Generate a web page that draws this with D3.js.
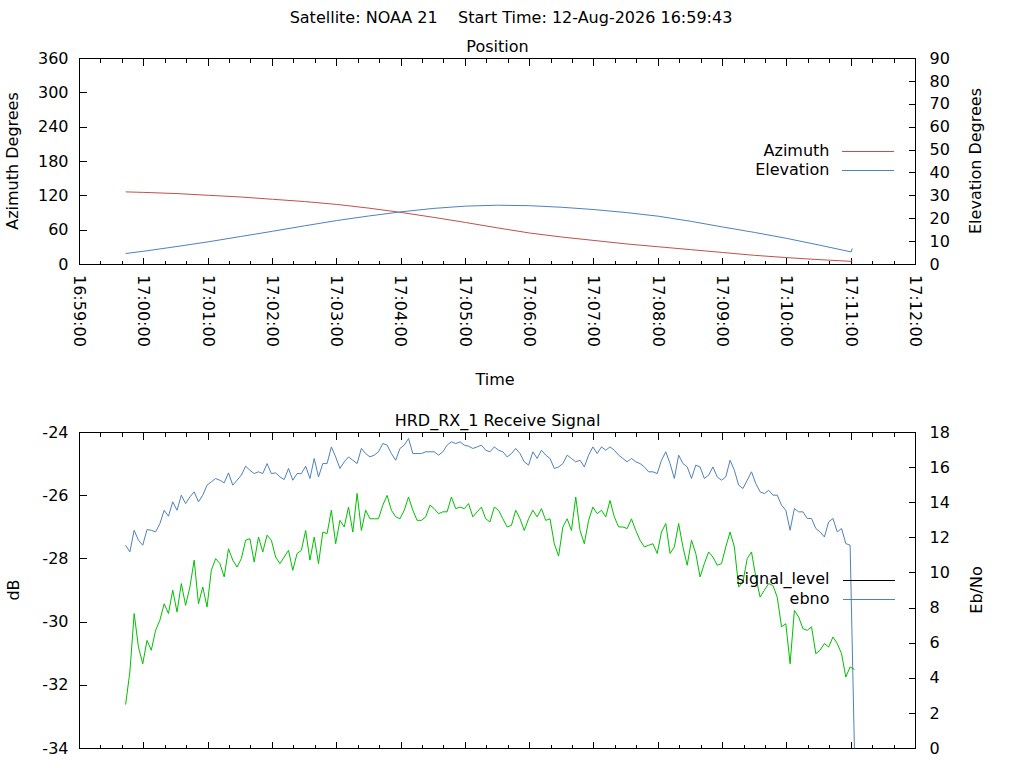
<!DOCTYPE html>
<html>
<head>
<meta charset="utf-8">
<script src="https://cdn.jsdelivr.net/npm/d3@7"></script>
<style>
  body { margin: 0; background: #fff; }
  svg { display: block; font-family: "DejaVu Sans", sans-serif; font-size: 16px; }
</style>
</head>
<body>
<svg id="chart" width="1024" height="768"></svg>
<script>
// ---- position pass (top panel) ----
var posTimes = ["16:59:43", "17:00:00", "17:00:30", "17:01:00", "17:01:30", "17:02:00", "17:02:30",
  "17:03:00", "17:03:30", "17:04:00", "17:04:30", "17:05:00", "17:05:30", "17:06:00", "17:06:30",
  "17:07:00", "17:07:30", "17:08:00", "17:08:30", "17:09:00", "17:09:30", "17:10:00", "17:10:30",
  "17:11:00", "17:11:01"];
var azimuth = [126.9, 126, 124, 121, 118, 114, 110, 105, 98.5, 91, 82.5, 73.5, 64, 55, 48,
  42, 36, 31, 26, 21, 16, 12, 8.5, 5.5, 8];
var elevation = [4.8, 5.8, 7.8, 9.9, 12.2, 14.5, 16.9, 19.2, 21.2, 23.0, 24.5, 25.5, 25.9, 25.7, 25.0,
  24.0, 22.7, 21.1, 18.9, 16.4, 14.0, 11.4, 8.5, 5.5, 7.0];

// ---- receive signal (bottom panel), one sample every sigStep seconds ----
var sigStart = "16:59:43";
var sigStep = 4;
var signalLevel = [
  -32.61, -31.58, -29.73, -30.79, -31.32, -30.58, -30.89, -30.26, -29.94, -29.42,
  -29.73, -28.99, -29.68, -28.78, -29.47, -28.89, -28.04, -29.42, -28.89, -29.52,
  -28.36, -27.99, -28.15, -28.57, -27.68, -28.04, -28.26, -27.99, -27.41, -27.36,
  -28.10, -27.31, -27.78, -27.25, -27.41, -27.94, -28.15, -27.94, -27.73, -28.36,
  -27.83, -27.73, -27.10, -28.04, -27.31, -28.15, -27.15, -27.20, -26.46, -27.52,
  -26.78, -26.99, -26.36, -27.15, -25.93, -27.10, -26.46, -26.73, -26.73, -26.73,
  -26.30, -25.99, -26.46, -26.67, -26.73, -26.46, -26.04, -26.46, -26.78, -26.78,
  -26.67, -26.30, -26.41, -26.57, -26.51, -26.51, -26.04, -26.41, -26.36, -26.41,
  -26.25, -26.67, -26.51, -26.36, -26.73, -26.83, -26.36, -26.46, -26.73, -26.99,
  -26.94, -26.46, -26.73, -27.10, -26.73, -26.46, -26.67, -26.41, -26.78, -26.73,
  -27.52, -27.91, -26.99, -26.73, -27.10, -26.04, -27.10, -27.52, -26.78, -26.36,
  -26.57, -26.46, -26.67, -26.15, -26.67, -26.99, -26.99, -27.04, -26.73, -27.10,
  -27.41, -27.62, -27.57, -27.52, -27.83, -27.15, -26.88, -27.83, -27.62, -26.88,
  -27.62, -28.20, -27.41, -27.83, -28.57, -28.15, -27.78, -27.94, -28.20, -28.15,
  -27.62, -27.15, -27.62, -28.89, -28.73, -27.99, -27.78, -28.57, -29.21, -28.99,
  -28.78, -28.84, -29.21, -30.15, -30.05, -31.32, -29.63, -29.84, -30.21, -30.26,
  -30.15, -31.00, -30.89, -30.68, -30.79, -30.47, -30.68, -31.00, -31.74, -31.42,
  -31.50];
var ebno = [
  11.58, 11.20, 12.43, 11.86, 11.58, 12.47, 12.43, 12.34, 12.81, 13.57,
  13.23, 14.05, 13.57, 14.43, 13.95, 14.33, 14.62, 14.05, 14.43, 15.00,
  15.19, 15.38, 15.28, 15.13, 15.70, 15.00, 15.28, 15.57, 16.08, 15.85,
  15.66, 15.76, 15.66, 16.23, 15.66, 15.70, 15.47, 15.32, 15.95, 15.28,
  15.66, 15.66, 16.08, 15.38, 16.52, 15.47, 16.23, 16.23, 17.18, 16.61,
  15.95, 16.33, 16.61, 16.42, 16.23, 17.09, 16.80, 16.61, 16.71, 16.90,
  17.37, 17.28, 16.80, 16.42, 17.09, 17.28, 17.66, 16.80, 16.80, 16.80,
  16.90, 16.90, 16.90, 16.71, 16.90, 17.28, 17.47, 17.37, 17.47, 17.28,
  17.22, 17.09, 17.18, 17.28, 16.99, 16.90, 17.18, 16.99, 16.90, 16.61,
  16.80, 17.09, 16.80, 16.33, 16.14, 16.90, 16.52, 16.99, 16.71, 16.52,
  15.95, 16.04, 16.23, 16.71, 16.52, 16.33, 16.42, 16.04, 16.71, 17.18,
  16.80, 17.18, 16.99, 17.18, 16.99, 16.71, 16.52, 16.33, 16.52, 16.33,
  16.23, 16.04, 15.76, 15.76, 15.66, 16.42, 16.90, 16.23, 15.38, 16.71,
  16.23, 16.04, 15.38, 16.14, 16.04, 15.38, 15.57, 16.04, 15.47, 15.28,
  15.47, 16.42, 15.85, 15.00, 14.81, 15.28, 15.76, 15.09, 14.62, 14.52,
  14.71, 14.43, 14.43, 13.86, 13.57, 12.43, 13.67, 13.48, 13.48, 13.10,
  13.10, 12.53, 12.34, 12.05, 12.91, 13.10, 12.34, 12.53, 11.67, 11.58,
  0];

var azTicks = [0, 60, 120, 180, 240, 300, 360];
var elTicks = [0, 10, 20, 30, 40, 50, 60, 70, 80, 90];
var dbTicks = [-34, -32, -30, -28, -26, -24];
var ebTicks = [0, 2, 4, 6, 8, 10, 12, 14, 16, 18];

var titleText = "Satellite: NOAA 21    Start Time: 12-Aug-2026 16:59:43";

// ------------------------------------------------------------
var svg = d3.select("#chart");
var parse = d3.utcParse("%H:%M:%S");
var RED = "#c0504d", BLUE = "#4f81bd", GREEN = "#00c000";

var L = 79.5, R = 915.5;
var x = d3.scaleUtc()
  .domain([parse("16:59:00"), parse("17:12:00")])
  .range([L, R]);
var majors = x.ticks(d3.utcMinute.every(1));
var minors = x.ticks(d3.utcSecond.every(20)).filter(function(d) { return d.getUTCSeconds() != 0; });

// plain hyphen for negatives, like the original
function plain(d) { return String(d); }

function panel(top, bottom, yl, yr, lTicks, rTicks) {
  var g = svg.append("g");
  g.append("rect").attr("x", L).attr("y", top).attr("width", R - L).attr("height", bottom - top)
    .attr("fill", "none").attr("stroke", "#000").attr("shape-rendering", "crispEdges");

  // x ticks inward, top and bottom
  [[bottom, -1], [top, 1]].forEach(function(e) {
    g.selectAll(null).data(majors).enter().append("line")
      .attr("x1", function(d) { return x(d); }).attr("x2", function(d) { return x(d); })
      .attr("y1", e[0]).attr("y2", e[0] + 7 * e[1])
      .attr("stroke", "#000").attr("shape-rendering", "crispEdges");
    g.selectAll(null).data(minors).enter().append("line")
      .attr("x1", function(d) { return x(d); }).attr("x2", function(d) { return x(d); })
      .attr("y1", e[0]).attr("y2", e[0] + 4 * e[1])
      .attr("stroke", "#000").attr("shape-rendering", "crispEdges");
  });

  var la = d3.axisLeft(yl).tickValues(lTicks).tickFormat(plain).tickSize(-7).tickPadding(11).offset(0);
  var ra = d3.axisRight(yr).tickValues(rTicks).tickFormat(plain).tickSize(-7).tickPadding(14).offset(0);
  [[la, L], [ra, R]].forEach(function(a) {
    var ag = g.append("g").attr("transform", "translate(" + a[1] + ",0)").call(a[0]);
    ag.select(".domain").remove();
    ag.attr("font-size", 16).attr("font-family", "DejaVu Sans, sans-serif");
    ag.selectAll("line").attr("shape-rendering", "crispEdges").attr("stroke", "#000");
    ag.selectAll("text").attr("fill", "#000");
  });
  return g;
}

function vlabel(text, cx, cy) {
  svg.append("text").attr("transform", "translate(" + cx + "," + cy + ") rotate(-90)")
    .attr("text-anchor", "middle").attr("dy", "0.35em").text(text);
}

// title
svg.append("text").attr("x", 511).attr("y", 23).attr("text-anchor", "middle")
  .style("white-space", "pre").text(titleText);

// ---------------- top panel ----------------
var T1 = 58.5, B1 = 264.5;
var yAz = d3.scaleLinear().domain([0, 360]).range([B1, T1]);
var yEl = d3.scaleLinear().domain([0, 90]).range([B1, T1]);
panel(T1, B1, yAz, yEl, azTicks, elTicks);

svg.append("text").attr("x", 497.5).attr("y", 52).attr("text-anchor", "middle").text("Position");
vlabel("Azimuth Degrees", 12.5, 161);
vlabel("Elevation Degrees", 975.5, 161);

// rotated time labels
svg.selectAll(null).data(majors).enter().append("text")
  .attr("transform", function(d) { return "translate(" + x(d) + ",275) rotate(90)"; })
  .attr("dy", "0.35em")
  .text(d3.utcFormat("%H:%M:%S"));
svg.append("text").attr("x", 495).attr("y", 385).attr("text-anchor", "middle").text("Time");

var posT = posTimes.map(parse);
var azLine = d3.line().x(function(d, i) { return x(posT[i]); }).y(function(d) { return yAz(d); });
var elLine = d3.line().x(function(d, i) { return x(posT[i]); }).y(function(d) { return yEl(d); });
svg.append("path").attr("d", azLine(azimuth)).attr("fill", "none").attr("stroke", RED).attr("stroke-width", 1);
svg.append("path").attr("d", elLine(elevation)).attr("fill", "none").attr("stroke", BLUE).attr("stroke-width", 1);

// legend top
var leg1 = [["Azimuth", RED, 151, 156], ["Elevation", BLUE, 170, 175]];
leg1.forEach(function(l) {
  svg.append("text").attr("x", 829.5).attr("y", l[3]).attr("text-anchor", "end").text(l[0]);
  svg.append("line").attr("x1", 842).attr("x2", 894).attr("y1", l[2] + 0.5).attr("y2", l[2] + 0.5)
    .attr("stroke", l[1]).attr("shape-rendering", "crispEdges");
});

// ---------------- bottom panel ----------------
var T2 = 432.5, B2 = 748.5;
var yDb = d3.scaleLinear().domain([-34, -24]).range([B2, T2]);
var yEb = d3.scaleLinear().domain([0, 18]).range([B2, T2]);
panel(T2, B2, yDb, yEb, dbTicks, ebTicks);

svg.append("text").attr("x", 497.5).attr("y", 426).attr("text-anchor", "middle").text("HRD_RX_1 Receive Signal");
vlabel("dB", 13.5, 590);
vlabel("Eb/No", 976, 590);

var t0 = parse(sigStart);
function sigTime(i) { return new Date(t0.getTime() + i * sigStep * 1000); }
var sigLine = d3.line().x(function(d, i) { return x(sigTime(i)); }).y(function(d) { return yDb(d); });
var ebLine = d3.line().x(function(d, i) { return x(sigTime(i)); }).y(function(d) { return yEb(d); });
svg.append("path").attr("d", ebLine(ebno)).attr("fill", "none").attr("stroke", BLUE).attr("stroke-width", 1);
svg.append("path").attr("d", sigLine(signalLevel)).attr("fill", "none").attr("stroke", GREEN).attr("stroke-width", 1);

// legend bottom
var leg2 = [["signal_level", "#000", 580, 584], ["ebno", BLUE, 599, 604]];
leg2.forEach(function(l) {
  svg.append("text").attr("x", 829.5).attr("y", l[3]).attr("text-anchor", "end").text(l[0]);
  svg.append("line").attr("x1", 843).attr("x2", 895).attr("y1", l[2] + 0.5).attr("y2", l[2] + 0.5)
    .attr("stroke", l[1]).attr("shape-rendering", "crispEdges");
});
</script>
</body>
</html>
